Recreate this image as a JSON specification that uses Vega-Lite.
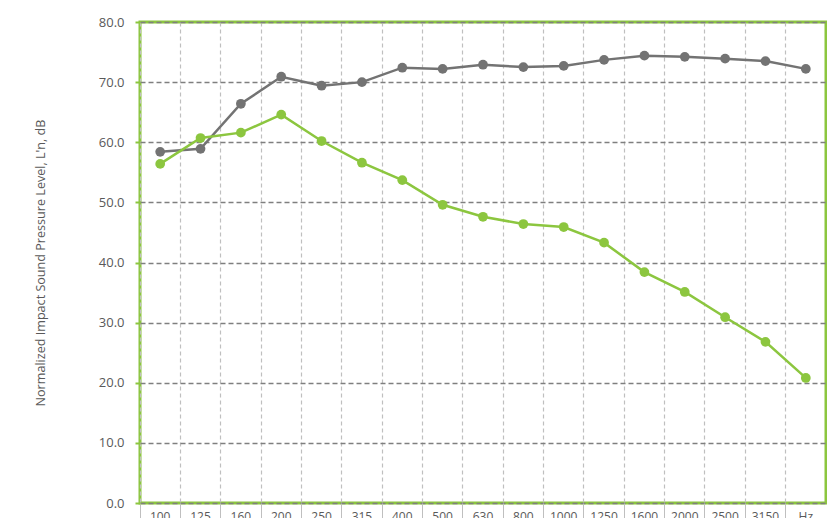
{
  "$schema": "https://vega.github.io/schema/vega-lite/v6.json",
  "width": 686,
  "height": 481,
  "autosize": {"type": "none"},
  "padding": {"left": 140, "top": 22, "right": 1, "bottom": 15},
  "background": "white",
  "config": {
    "view": {"stroke": "#8cc63f", "strokeWidth": 3},
    "font": "Open Sans"
  },
  "data": {
    "values": [
      {"f": "100", "s": "A", "v": 58.4}, {"f": "125", "s": "A", "v": 58.9}, {"f": "160", "s": "A", "v": 66.4},
      {"f": "200", "s": "A", "v": 70.9}, {"f": "250", "s": "A", "v": 69.4}, {"f": "315", "s": "A", "v": 70.0},
      {"f": "400", "s": "A", "v": 72.4}, {"f": "500", "s": "A", "v": 72.2}, {"f": "630", "s": "A", "v": 72.9},
      {"f": "800", "s": "A", "v": 72.5}, {"f": "1000", "s": "A", "v": 72.7}, {"f": "1250", "s": "A", "v": 73.7},
      {"f": "1600", "s": "A", "v": 74.4}, {"f": "2000", "s": "A", "v": 74.2}, {"f": "2500", "s": "A", "v": 73.9},
      {"f": "3150", "s": "A", "v": 73.5}, {"f": "Hz", "s": "A", "v": 72.2},
      {"f": "100", "s": "B", "v": 56.4}, {"f": "125", "s": "B", "v": 60.7}, {"f": "160", "s": "B", "v": 61.6},
      {"f": "200", "s": "B", "v": 64.6}, {"f": "250", "s": "B", "v": 60.2}, {"f": "315", "s": "B", "v": 56.6},
      {"f": "400", "s": "B", "v": 53.7}, {"f": "500", "s": "B", "v": 49.6}, {"f": "630", "s": "B", "v": 47.6},
      {"f": "800", "s": "B", "v": 46.4}, {"f": "1000", "s": "B", "v": 45.9}, {"f": "1250", "s": "B", "v": 43.3},
      {"f": "1600", "s": "B", "v": 38.4}, {"f": "2000", "s": "B", "v": 35.1}, {"f": "2500", "s": "B", "v": 30.9},
      {"f": "3150", "s": "B", "v": 26.8}, {"f": "Hz", "s": "B", "v": 20.8}
    ]
  },
  "encoding": {
    "x": {
      "field": "f", "type": "ordinal", "sort": null,
      "scale": {"type": "band", "paddingInner": 0, "paddingOuter": 0},
      "axis": {
        "title": null, "bandPosition": 0, "labelAngle": 0,
        "labelAlign": "center", "labelBaseline": "top", "labelPadding": -7,
        "labelColor": "#595959", "labelFontSize": 12,
        "domain": false, "ticks": true, "tickColor": "#bfbfbf", "tickSize": 15, "tickWidth": 1,
        "grid": true, "gridColor": "#bfbfbf", "gridDash": [4, 3], "gridWidth": 1.2
      }
    },
    "y": {
      "field": "v", "type": "quantitative",
      "scale": {"domain": [0, 80], "nice": false},
      "axis": {
        "title": "Normalized Impact Sound Pressure Level, L'n, dB",
        "titleColor": "#595959", "titleFontSize": 12.6, "titleFontWeight": "normal", "titlePadding": 51,
        "values": [0, 10, 20, 30, 40, 50, 60, 70, 80], "format": ".1f",
        "labelColor": "#595959", "labelFontSize": 13, "labelPadding": 11,
        "domain": false, "tickColor": "#8cc63f", "tickSize": 5, "tickWidth": 2,
        "grid": true, "gridColor": "#7f7f7f", "gridDash": [5, 3], "gridWidth": 1.5
      }
    },
    "color": {
      "field": "s", "type": "nominal",
      "scale": {"domain": ["A", "B"], "range": ["#737373", "#8cc63f"]},
      "legend": null
    }
  },
  "layer": [
    {"mark": {"type": "line", "strokeWidth": 2.5}},
    {"mark": {"type": "point", "filled": true, "opacity": 1, "size": 95}}
  ]
}
